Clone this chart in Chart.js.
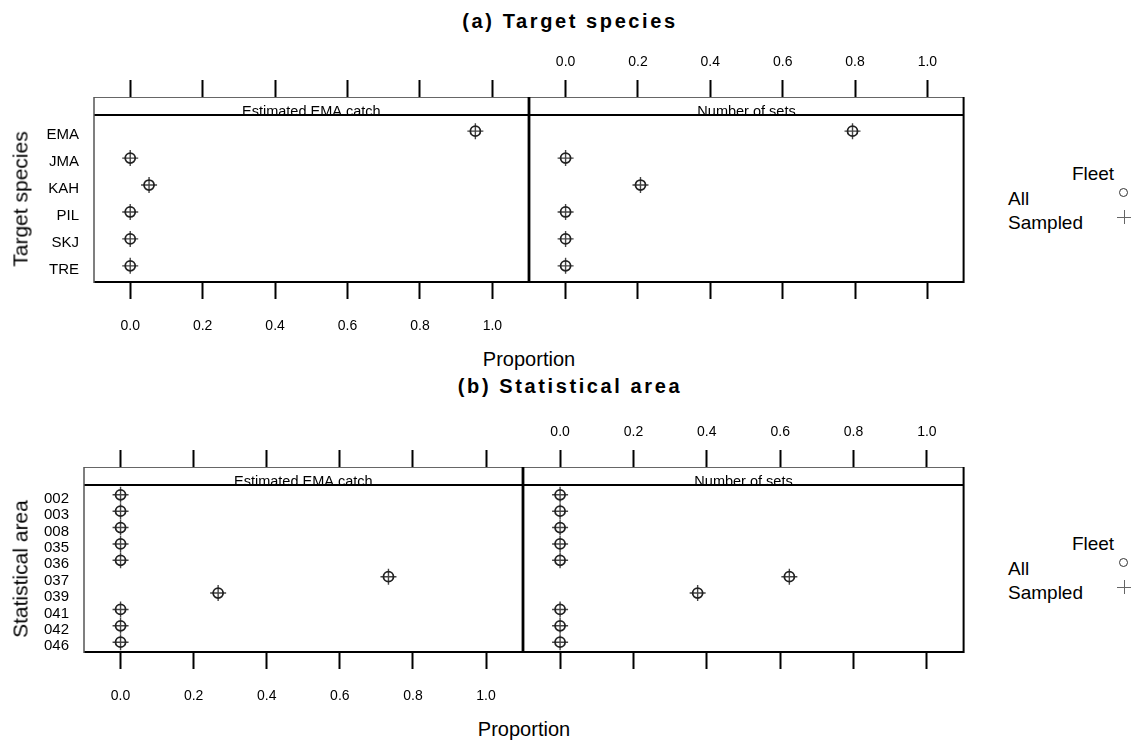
<!DOCTYPE html>
<html>
<head>
<meta charset="utf-8">
<script src="https://cdn.jsdelivr.net/npm/chart.js@4.4.1/dist/chart.umd.min.js"></script>
<style>
  body { margin: 0; background: #fff; width: 1139px; height: 740px; position: relative; overflow: hidden;
         font-family: "Liberation Sans", Arial, sans-serif; color: #000; }
  canvas { position: absolute; }
  .t { position: absolute; white-space: nowrap; transform: translate(-50%, -50%); line-height: 1; }
</style>
</head>
<body>
<script>
// ---- data ----
const speciesCats = ['EMA', 'JMA', 'KAH', 'PIL', 'SKJ', 'TRE'];
const speciesCatchAll = [0.953, 0, 0.052, 0, 0, 0];
const speciesCatchSampled = [0.953, 0, 0.052, 0, 0, 0];
const speciesSetsAll = [0.793, 0, 0.207, 0, 0, 0];
const speciesSetsSampled = [0.793, 0, 0.207, 0, 0, 0];

const areaCats = ['002', '003', '008', '035', '036', '037', '039', '041', '042', '046'];
const areaCatchAll = [0, 0, 0, 0, 0, 0.733, 0.267, 0, 0, 0];
const areaCatchSampled = [0, 0, 0, 0, 0, 0.733, 0.267, 0, 0, 0];
const areaSetsAll = [0, 0, 0, 0, 0, 0.625, 0.375, 0, 0, 0];
const areaSetsSampled = [0, 0, 0, 0, 0, 0.625, 0.375, 0, 0, 0];

const xTicks = [0, 0.2, 0.4, 0.6, 0.8, 1.0];
const stripLabels = ['Estimated EMA catch', 'Number of sets'];

const FONT = '"Liberation Sans", Arial, sans-serif';
const TOP_H = 75, BOT_H = 60, STRIP_H = 18;

// panel frame + strip (lattice style)
const framePlugin = {
  id: 'frame',
  afterDraw(chart, args, opts) {
    const { ctx, chartArea: a } = chart;
    ctx.save();
    ctx.fillStyle = '#fff';
    ctx.fillRect(a.left, a.top - STRIP_H, a.right - a.left, STRIP_H);
    ctx.fillStyle = '#000';
    ctx.font = '14.5px ' + FONT;
    ctx.textAlign = 'center';
    ctx.textBaseline = 'alphabetic';
    ctx.fillText(opts.strip, (a.left + a.right) / 2, a.top + 1);
    ctx.strokeStyle = '#666';
    ctx.lineWidth = 1;
    ctx.beginPath();
    ctx.moveTo(a.left, a.top - STRIP_H + 0.5);
    ctx.lineTo(a.right, a.top - STRIP_H + 0.5);
    ctx.stroke();
    ctx.strokeStyle = '#000';
    ctx.lineWidth = 2;
    ctx.beginPath();
    ctx.moveTo(a.left, a.top); ctx.lineTo(a.right, a.top);
    ctx.moveTo(a.right, a.top - STRIP_H); ctx.lineTo(a.right, a.bottom);
    ctx.lineTo(a.left, a.bottom);
    ctx.stroke();
    ctx.strokeStyle = opts.first ? '#555' : '#000';
    ctx.lineWidth = opts.first ? 1.5 : 2;
    ctx.beginPath();
    ctx.moveTo(a.left, a.top - STRIP_H); ctx.lineTo(a.left, a.bottom + 1);
    ctx.stroke();
    ctx.restore();
  }
};

function pts(vals) {
  return vals.map((v, i) => ({ x: v, y: i + 1 }));
}

function addText(str, x, y, style) {
  const d = document.createElement('div');
  d.className = 't';
  d.textContent = str;
  d.style.left = x + 'px';
  d.style.top = y + 'px';
  Object.assign(d.style, style || {});
  document.body.appendChild(d);
  return d;
}

function panel(o) {
  const c = document.createElement('canvas');
  const left = o.first ? 0 : o.x0 - 9;
  const width = o.x1 + 9 - left;
  const height = TOP_H + (o.bottom - o.top) + BOT_H;
  c.width = width; c.height = height;
  c.style.left = left + 'px';
  c.style.top = (o.top - TOP_H) + 'px';
  document.body.appendChild(c);
  const cats = o.cats;
  new Chart(c, {
    type: 'scatter',
    data: {
      datasets: [
        { label: 'All', data: pts(o.all), pointStyle: 'circle', pointRadius: 5,
          borderColor: '#222', backgroundColor: 'rgba(0,0,0,0)', borderWidth: 1.8 },
        { label: 'Sampled', data: pts(o.sampled), pointStyle: 'cross', pointRadius: 8,
          borderColor: '#444', borderWidth: 1.4 }
      ]
    },
    options: {
      responsive: false,
      animation: false,
      devicePixelRatio: 1,
      layout: { padding: { left: o.first ? 0 : 6, right: 6, top: 0, bottom: 0 } },
      plugins: { legend: { display: false }, tooltip: { enabled: false }, frame: { strip: o.strip, first: o.first } },
      scales: {
        x: {
          type: 'linear', position: 'bottom', min: -0.1, max: 1.1,
          afterBuildTicks: s => { s.ticks = xTicks.map(v => ({ value: v })); },
          afterFit: s => { s.height = BOT_H; },
          grid: { drawOnChartArea: false, drawTicks: true, tickLength: 17, tickWidth: 2, tickColor: '#000' },
          border: { display: false },
          ticks: { display: o.first, padding: 19, color: '#000', font: { family: FONT, size: 14 },
                   maxRotation: 0, autoSkip: false, callback: v => v.toFixed(1) }
        },
        x2: {
          type: 'linear', position: 'top', min: -0.1, max: 1.1,
          afterBuildTicks: s => { s.ticks = xTicks.map(v => ({ value: v })); },
          afterFit: s => { s.height = TOP_H; },
          grid: { drawOnChartArea: false, drawTicks: true, tickLength: 17 + STRIP_H, tickWidth: 2, tickColor: '#000' },
          border: { display: false },
          ticks: { display: !o.first, padding: 9, color: '#000', font: { family: FONT, size: 14 },
                   maxRotation: 0, autoSkip: false, callback: v => v.toFixed(1) }
        },
        y: {
          type: 'linear', reverse: true, min: 0.4, max: cats.length + 0.6,
          display: o.first,
          afterBuildTicks: s => { s.ticks = cats.map((c, i) => ({ value: i + 1 })); },
          afterFit: s => { if (o.first) s.width = o.x0; },
          grid: { display: false, drawTicks: false },
          border: { display: false },
          ticks: { padding: 15, labelOffset: 4, autoSkip: false, color: '#000', font: { family: FONT, size: 15 },
                   callback: v => cats[v - 1] }
        }
      }
    },
    plugins: [framePlugin]
  });
}

function legend(cy) {
  addText('Fleet', 1093, cy, { fontSize: '19px' });
  addText('All', 1008, cy + 25, { fontSize: '19px', transform: 'translate(0,-50%)' });
  addText('Sampled', 1008, cy + 49, { fontSize: '19px', transform: 'translate(0,-50%)' });
  const circ = document.createElement('div');
  Object.assign(circ.style, { position: 'absolute', left: (1124 - 5) + 'px', top: (cy + 20 - 5) + 'px',
    width: '7px', height: '7px', border: '1.5px solid #333', borderRadius: '50%' });
  document.body.appendChild(circ);
  const h = document.createElement('div');
  Object.assign(h.style, { position: 'absolute', left: (1124 - 7) + 'px', top: (cy + 44) + 'px',
    width: '14px', height: '0', borderTop: '1.3px solid #666' });
  document.body.appendChild(h);
  const v = document.createElement('div');
  Object.assign(v.style, { position: 'absolute', left: 1124 + 'px', top: (cy + 44 - 7) + 'px',
    width: '0', height: '14px', borderLeft: '1.3px solid #666' });
  document.body.appendChild(v);
}

function figure(f) {
  addText(f.title, 570, f.titleY, { fontSize: '20px', fontWeight: 'bold', letterSpacing: '2.6px' });
  panel({ first: true, x0: f.xl, x1: f.xm, top: f.top, bottom: f.bottom, cats: f.cats,
          all: f.catchAll, sampled: f.catchSampled, strip: stripLabels[0] });
  panel({ first: false, x0: f.xm, x1: 964, top: f.top, bottom: f.bottom, cats: f.cats,
          all: f.setsAll, sampled: f.setsSampled, strip: stripLabels[1] });
  addText(f.ylabel, 20, (f.top + f.bottom) / 2, { fontSize: '21px', transform: 'translate(-50%,-50%) rotate(-90deg)' });
  addText('Proportion', (f.xl + 964) / 2, f.bottom + 77, { fontSize: '20px' });
  legend(f.top + 58);
}

figure({ title: '(a) Target species', titleY: 21, ylabel: 'Target species', xl: 94, xm: 529,
         top: 115, bottom: 282, cats: speciesCats,
         catchAll: speciesCatchAll, catchSampled: speciesCatchSampled,
         setsAll: speciesSetsAll, setsSampled: speciesSetsSampled });
figure({ title: '(b) Statistical area', titleY: 386, ylabel: 'Statistical area', xl: 84, xm: 523,
         top: 485, bottom: 652, cats: areaCats,
         catchAll: areaCatchAll, catchSampled: areaCatchSampled,
         setsAll: areaSetsAll, setsSampled: areaSetsSampled });
</script>
</body>
</html>
